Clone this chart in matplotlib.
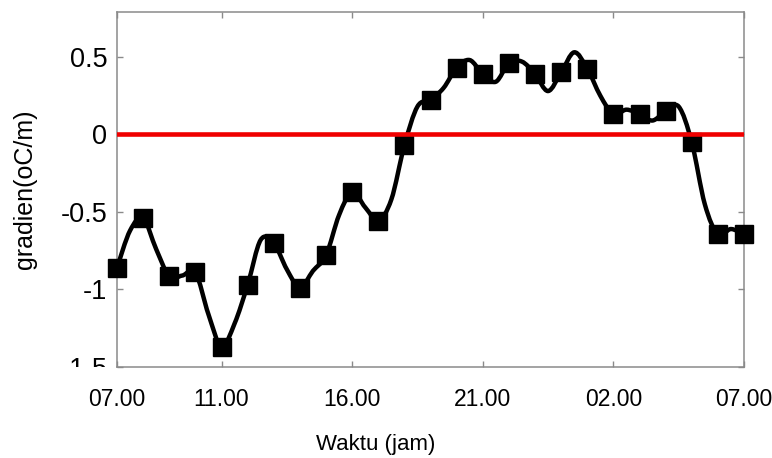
import matplotlib
matplotlib.use("Agg")
import matplotlib.pyplot as plt
import numpy as np
from matplotlib.path import Path
from matplotlib.patches import PathPatch
from matplotlib.transforms import Bbox, TransformedBbox

# hourly readings, 07.00 through 07.00 the next morning
hours = np.arange(0, 25)
marker_vals = [-0.86, -0.54, -0.915, -0.89, -1.37, -0.97, -0.70, -0.99, -0.78,
               -0.37, -0.555, -0.07, 0.225, 0.43, 0.39, 0.46, 0.39, 0.40,
               0.425, 0.13, 0.13, 0.15, -0.05, -0.645, -0.645]
# half-hour readings between the hourly ones (xx.30)
mid_vals = [-0.62, -0.74, -0.91, -1.16, -1.22, -0.68, -0.87, -0.88, -0.52,
            -0.47, -0.42, 0.18, 0.30, 0.48, 0.34, 0.47, 0.28, 0.53,
            0.25, 0.16, 0.09, 0.18, -0.45, -0.61]

tick_pos = [0, 4, 9, 14, 19, 24]
tick_labels = ["07.00", "11.00", "16.00", "21.00", "02.00", "07.00"]
ytick_pos = [-1.5, -1, -0.5, 0, 0.5]
ytick_labels = ["-1.5", "-1", "-0.5", "0", "0.5"]

SANS = ["Liberation Sans", "DejaVu Sans"]
GRAY = "#8a8a8a"


def smooth_path(x, y):
    # Catmull-Rom through the readings, written as cubic Bezier segments
    pts = np.column_stack([x, y])
    n = len(pts)
    verts = [pts[0]]
    codes = [Path.MOVETO]
    for i in range(n - 1):
        p0 = pts[max(i - 1, 0)]
        p1 = pts[i]
        p2 = pts[i + 1]
        p3 = pts[min(i + 2, n - 1)]
        verts += [p1 + (p2 - p0) / 6, p2 - (p3 - p1) / 6, p2]
        codes += [Path.CURVE4] * 3
    return Path(verts, codes)


t = np.arange(0, 24.5, 0.5)
curve = np.empty(len(t))
curve[0::2] = marker_vals
curve[1::2] = mid_vals

fig = plt.figure(figsize=(7.72, 4.58), dpi=100)
ax_box = [117 / 772, 1 - 367 / 458, 627 / 772, 355 / 458]
ax = fig.add_axes(ax_box)

ax.add_patch(PathPatch(smooth_path(t, curve), facecolor="none",
                       edgecolor="black", lw=3.2, joinstyle="round",
                       transform=ax.transData, zorder=3, clip_on=False))
ax.plot(hours, marker_vals, linestyle="none", marker="s", ms=12.5,
        color="black", zorder=4, clip_on=False)
ax.axhline(0, color="#f00000", lw=3.3, zorder=5)

ax.set_xlim(0, 24)
ax.set_ylim(-1.5, 0.79)
ax.set_xticks(tick_pos)
ax.set_xticklabels(tick_labels, family=SANS, fontsize=16.5)
ax.set_yticks(ytick_pos)
ax.set_yticklabels(ytick_labels, family=SANS, fontsize=19.5)
ax.tick_params(axis="x", direction="in", length=4, width=1, color=GRAY,
               top=True, pad=15)
ax.tick_params(axis="y", direction="in", length=4, width=1, color=GRAY,
               right=True, pad=7)
for s in ax.spines.values():
    s.set_color(GRAY)
    s.set_linewidth(1.1)

# the bottom y label is cut off at the level of the x axis
low = ax.get_yticklabels()[0]
low.set_clip_box(TransformedBbox(Bbox([[0, ax_box[1]], [1, 1]]),
                                 fig.transFigure))
low.set_clip_on(True)

ax.set_xlabel("Waktu (jam)", family=SANS, fontsize=16)
ax.xaxis.set_label_coords((376 - 117) / 627, -0.19)
ax.set_ylabel("gradien(oC/m)", family=SANS, fontsize=18)
ax.yaxis.set_label_coords(-0.128, 0.5)

fig.savefig("out.png", dpi=100)
